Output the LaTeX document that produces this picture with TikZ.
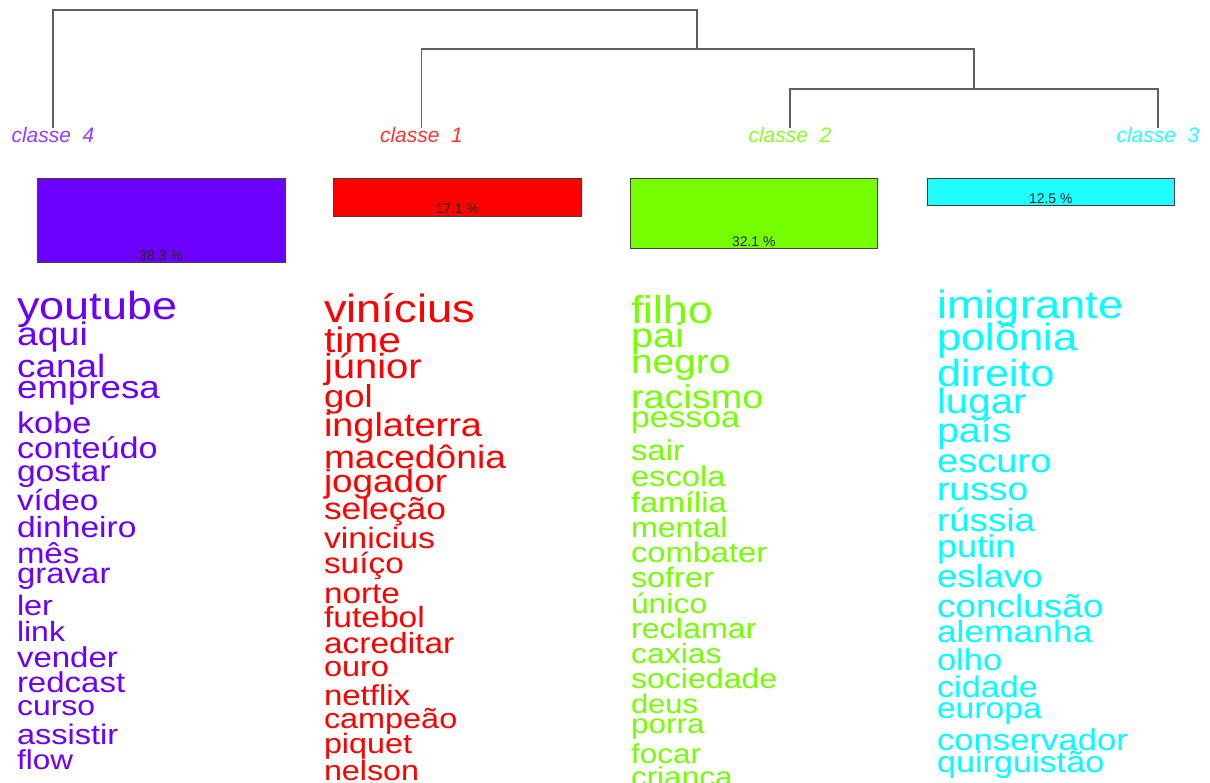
\documentclass[tikz,border=0pt]{standalone}
\usepackage{graphicx}
\usepackage{fontspec}
\setmainfont{Liberation Sans}
\definecolor{cquatro}{RGB}{108,0,255}
\definecolor{cum}{RGB}{255,0,0}
\definecolor{cdois}{RGB}{118,255,0}
\definecolor{ctres}{RGB}{0,255,255}
\definecolor{cbartres}{RGB}{32,255,255}
\definecolor{dend}{RGB}{95,95,95}
\newcommand\wrd[4]{\node[wd] (#1) at (#2) {\fontsize{#3}{#3}\selectfont\scalebox{1}[0.87]{#4}};}
\begin{document}
\begin{tikzpicture}[x=1pt,y=-1pt,
  wd/.style={anchor=base west,inner sep=0pt,outer sep=0pt},
  classlab/.style={anchor=base,inner sep=0pt,font=\fontsize{21}{21}\selectfont\itshape},
  bar/.style={draw=black!75,line width=0.8pt},
  pct/.style={anchor=base,inner sep=0pt,font=\fontsize{14}{14}\selectfont,text=black!85},
  dendline/.style={draw=dend,line width=1.4pt}]
\useasboundingbox (0,0) rectangle (1210,782);
\clip (0,0) rectangle (1210,782);
\fill[white] (0,0) rectangle (1210,782);

% dendrogram
\coordinate (l4) at (53,128);
\coordinate (l1) at (421.5,128);
\coordinate (l2) at (790,128);
\coordinate (l3) at (1158,128);
\coordinate (j23) at (974,89);
\coordinate (j123) at (697,49);
\coordinate (root) at (697,10);
\draw[dendline] (l2) |- (j23) -| (l3);
\draw[dendline] (l1) |- (j123) -| (j23);
\draw[dendline] (l4) |- (root) -- (j123);

% class labels
\node[classlab,text=cquatro!75] (c4) at (53,142) {classe\ \ 4};
\node[classlab,text=cum!80] (c1) at (421.5,142) {classe\ \ 1};
\node[classlab,text=cdois!85] (c2) at (790,142) {classe\ \ 2};
\node[classlab,text=ctres!85] (c3) at (1158,142) {classe\ \ 3};

% bars
\draw[bar,fill=cquatro] (37,178) rectangle (285,262.5);
\draw[bar,fill=cum] (333.5,178) rectangle (581,216);
\draw[bar,fill=cdois] (630,178) rectangle (877.5,248.5);
\draw[bar,fill=cbartres] (927,178) rectangle (1174.5,205.5);
\node[pct] (p4) at (161,260.5) {38.3 \%};
\node[pct] (p1) at (457.3,213.5) {17.1 \%};
\node[pct] (p2) at (753.8,246.5) {32.1 \%};
\node[pct] (p3) at (1050.8,203) {12.5 \%};

% class 4 words
\begin{scope}[every node/.append style={text=cquatro}]
\wrd{a1}{17,319}{45}{youtube}
\wrd{a2}{17,345}{37.5}{aqui}
\wrd{a3}{17,377}{37}{canal}
\wrd{a4}{17,398}{36.7}{empresa}
\wrd{a5}{17,433}{34.4}{kobe}
\wrd{a6}{17,458}{34.2}{conteúdo}
\wrd{a7}{17,481}{33.7}{gostar}
\wrd{a8}{17,510}{33.3}{vídeo}
\wrd{a9}{17,537}{33.6}{dinheiro}
\wrd{a10}{17,563}{33}{mês}
\wrd{a11}{17,583}{33}{gravar}
\wrd{a12}{17,615}{32.4}{ler}
\wrd{a13}{17,641}{32}{link}
\wrd{a14}{17,667}{33}{vender}
\wrd{a15}{17,692}{33}{redcast}
\wrd{a16}{17,715}{32}{curso}
\wrd{a17}{17,744}{32.5}{assistir}
\wrd{a18}{17,769}{31.5}{flow}
\end{scope}

% class 1 words
\begin{scope}[every node/.append style={text=cum}]
\wrd{b1}{324,322}{45.3}{vinícius}
\wrd{b2}{324,352}{40.8}{time}
\wrd{b3}{324,378}{40}{júnior}
\wrd{b4}{324,407}{36.5}{gol}
\wrd{b5}{324,436}{37.9}{inglaterra}
\wrd{b6}{324,468}{37.2}{macedônia}
\wrd{b7}{324,492}{36.9}{jogador}
\wrd{b8}{324,519}{35.4}{seleção}
\wrd{b9}{324,548}{33.9}{vinicius}
\wrd{b10}{324,573}{33.4}{suíço}
\wrd{b11}{324,603}{33.3}{norte}
\wrd{b12}{324,627}{33.6}{futebol}
\wrd{b13}{324,653}{33.5}{acreditar}
\wrd{b14}{324,676}{32.5}{ouro}
\wrd{b15}{324,705}{33}{netflix}
\wrd{b16}{324,728}{32.4}{campeão}
\wrd{b17}{324,753}{32.3}{piquet}
\wrd{b18}{324,780}{32.3}{nelson}
\end{scope}

% class 2 words
\begin{scope}[every node/.append style={text=cdois}]
\wrd{g1}{631,323}{44.6}{filho}
\wrd{g2}{631,347}{39.7}{pai}
\wrd{g3}{631,373}{38.9}{negro}
\wrd{g4}{631,408}{37.8}{racismo}
\wrd{g5}{631,427}{33.8}{pessoa}
\wrd{g6}{631,460}{32.9}{sair}
\wrd{g7}{631,486}{32.7}{escola}
\wrd{g8}{631,512}{32.5}{família}
\wrd{g9}{631,537}{32.2}{mental}
\wrd{g10}{631,562}{32.7}{combater}
\wrd{g11}{631,587}{32.4}{sofrer}
\wrd{g12}{631,613}{31.9}{único}
\wrd{g13}{631,638}{32.3}{reclamar}
\wrd{g14}{631,663}{32}{caxias}
\wrd{g15}{631,688}{32.1}{sociedade}
\wrd{g16}{631,713}{31}{deus}
\wrd{g17}{631,733}{31.5}{porra}
\wrd{g18}{631,763}{31.5}{focar}
\wrd{g19}{631,786}{31.5}{criança}
\end{scope}

% class 3 words
\begin{scope}[every node/.append style={text=ctres}]
\wrd{d1}{937,318}{45.4}{imigrante}
\wrd{d2}{937,350}{43.7}{polônia}
\wrd{d3}{937,386}{43.2}{direito}
\wrd{d4}{937,413}{40.3}{lugar}
\wrd{d5}{937,442}{39.5}{país}
\wrd{d6}{937,472}{38.2}{escuro}
\wrd{d7}{937,500}{37.4}{russo}
\wrd{d8}{937,531}{36.8}{rússia}
\wrd{d9}{937,557}{36.3}{putin}
\wrd{d10}{937,587}{36.6}{eslavo}
\wrd{d11}{937,617}{37}{conclusão}
\wrd{d12}{937,642}{35.4}{alemanha}
\wrd{d13}{937,670}{34.6}{olho}
\wrd{d14}{937,697}{34.3}{cidade}
\wrd{d15}{937,718}{33.7}{europa}
\wrd{d16}{937,750}{34.7}{conservador}
\wrd{d17}{937,772}{34.2}{quirguistão}
\end{scope}
\end{tikzpicture}
\end{document}
